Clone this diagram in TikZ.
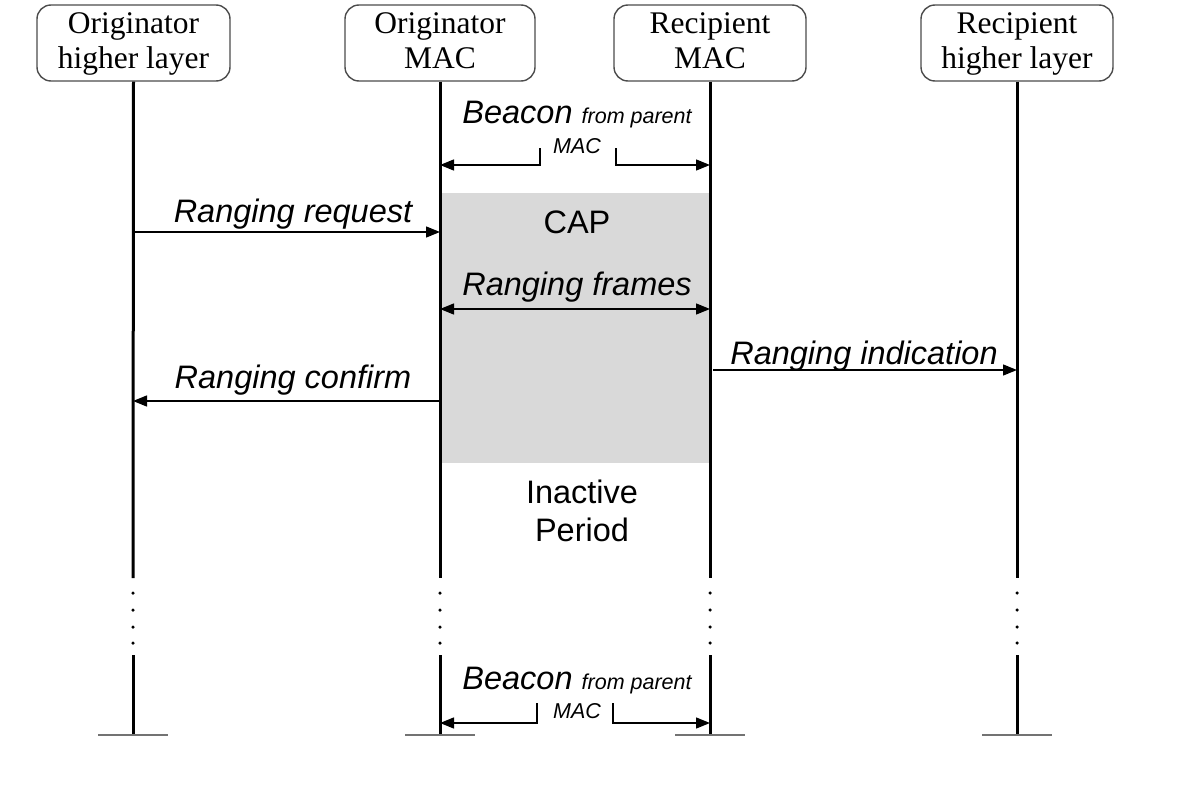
\documentclass[tikz,border=0pt]{standalone}
\usepackage{fontspec}
\setmainfont{Liberation Serif}
\setsansfont{Liberation Sans}
\usetikzlibrary{arrows.meta}
\begin{document}
\begin{tikzpicture}[x=1pt,y=-1pt,
  actor/.style={draw=black!70,line width=1.4pt,rounded corners=14pt,minimum height=76pt,inner sep=0pt},
  boxtxt/.style={font=\fontsize{31.5}{36}\selectfont,anchor=base,inner sep=0pt},
  life/.style={line width=3pt,black},
  foot/.style={line width=2pt,black!55},
  msg/.style={line width=1.4pt,-{Triangle[length=14pt,width=11pt]}},
  lbl/.style={font=\sffamily\itshape\fontsize{32.5}{36}\selectfont,anchor=base,inner sep=0pt},
  plain/.style={font=\sffamily\fontsize{32.5}{36}\selectfont,anchor=base,inner sep=0pt},
  small/.style={font=\sffamily\itshape\fontsize{21.5}{24}\selectfont,anchor=base,inner sep=0pt},
  dot/.style={circle,fill=black,inner sep=0pt,minimum size=3.5pt}
]
\useasboundingbox (0,0) rectangle (1200,800);
% gray CAP region
\fill[black!15] (440,193) rectangle (710,463);
% actors
\node[actor,minimum width=193pt] (a1) at (133.5,43) {};
\node[actor,minimum width=190pt] (a2) at (440,43) {};
\node[actor,minimum width=192pt] (a3) at (710,43) {};
\node[actor,minimum width=192pt] (a4) at (1017,43) {};
\node[boxtxt] (a1t) at (133.5,34) {Originator};
\node[boxtxt] (a1b) at (133.5,69) {higher layer};
\node[boxtxt] (a2t) at (440,34) {Originator};
\node[boxtxt] (a2b) at (440,69) {MAC};
\node[boxtxt] (a3t) at (710,34) {Recipient};
\node[boxtxt] (a3b) at (710,69) {MAC};
\node[boxtxt] (a4t) at (1017,34) {Recipient};
\node[boxtxt] (a4b) at (1017,69) {higher layer};
% lifelines
\foreach \n/\x in {1/133,2/440,3/710,4/1017}{
  \coordinate (m\n) at (\x,578);
  \coordinate (r\n) at (\x,655);
  \coordinate (b\n) at (\x,735);
  \draw[life] (a\n.south) -- (m\n);
  \draw[life] (r\n) -- (b\n);
  \foreach \y [count=\k] in {593,610,627,643}{ \node[dot] (d\n\k) at (\x,\y) {}; }
  \coordinate (fl\n) at (\x-35,735);
  \coordinate (fr\n) at (\x+35,735);
  \draw[foot] (fl\n) -- (fr\n);
}
% top beacon
\node[lbl] (bc1) at (577,124) {Beacon {\fontsize{21.5}{24}\selectfont from parent}};
\node[small] (mac1) at (577,153) {MAC};
\coordinate (bl1) at (540,148); \coordinate (bl1b) at (540,165); \coordinate (bl1e) at (440,165);
\coordinate (br1) at (616,148); \coordinate (br1b) at (616,165); \coordinate (br1e) at (710,165);
\draw[msg] (bl1) -- (bl1b) -- (bl1e);
\draw[msg] (br1) -- (br1b) -- (br1e);
% bottom beacon
\node[lbl] (bc2) at (577,689) {Beacon {\fontsize{21.5}{24}\selectfont from parent}};
\node[small] (mac2) at (577,718) {MAC};
\coordinate (bl2) at (537,703); \coordinate (bl2b) at (537,723); \coordinate (bl2e) at (440,723);
\coordinate (br2) at (613,703); \coordinate (br2b) at (613,723); \coordinate (br2e) at (710,723);
\draw[msg] (bl2) -- (bl2b) -- (bl2e);
\draw[msg] (br2) -- (br2b) -- (br2e);
% CAP
\node[plain] (cap) at (577,233) {CAP};
% ranging request
\coordinate (rq1) at (133,232); \coordinate (rq2) at (440,232);
\draw[msg] (rq1) -- (rq2);
\node[lbl] (rqt) at (293,222) {Ranging request};
% ranging frames
\coordinate (rf1) at (440,309); \coordinate (rf2) at (710,309);
\draw[msg,{Triangle[length=14pt,width=11pt]}-{Triangle[length=14pt,width=11pt]}] (rf1) -- (rf2);
\node[lbl] (rft) at (577,295) {Ranging frames};
% ranging indication
\coordinate (ri1) at (713,370); \coordinate (ri2) at (1017,370);
\draw[msg] (ri1) -- (ri2);
\node[lbl] (rit) at (864,364) {Ranging indication};
% ranging confirm
\coordinate (rc1) at (440,401); \coordinate (rc2) at (133,401);
\draw[msg] (rc1) -- (rc2);
\node[lbl] (rct) at (293,388) {Ranging confirm};
% inactive period
\node[plain] (ip1) at (582,503) {Inactive};
\node[plain] (ip2) at (582,541) {Period};
\end{tikzpicture}
\end{document}
